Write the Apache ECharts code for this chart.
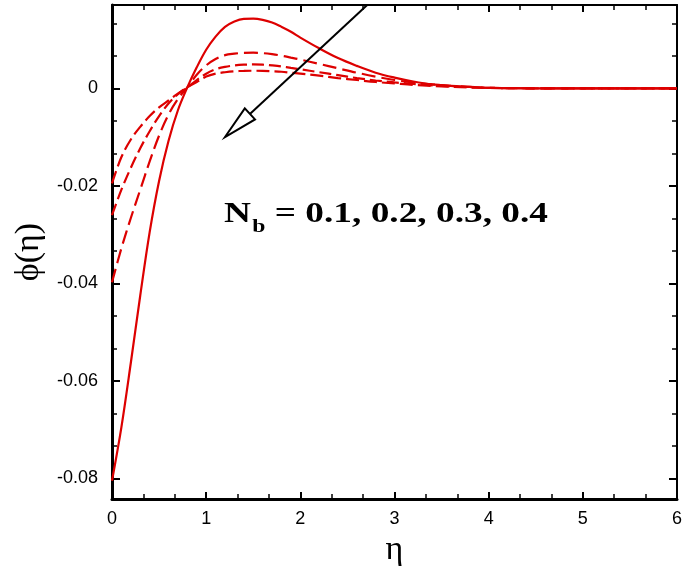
<!DOCTYPE html>
<html><head><meta charset="utf-8">
<script src="https://cdn.jsdelivr.net/npm/echarts@6/dist/echarts.min.js"></script>
<style>html,body{margin:0;padding:0;background:#fff}#c{width:685px;height:575px}</style>
</head><body><div id="c"></div>
<script>
// eta grid
const eta = [0,0.1,0.2,0.3,0.4,0.5,0.6,0.7,0.8,0.9,1.0,1.1,1.2,1.3,1.4,1.5,1.6,1.7,1.8,1.9,2.0,
  2.2,2.4,2.6,2.8,3.0,3.2,3.4,3.6,3.8,4.0,4.5,5,5.5,6];
// phi(eta) for Nb = 0.1 (solid)
const nb01 = [-0.0805,-0.0695,-0.0563,-0.0425,-0.0295,-0.0190,-0.0108,-0.0045,0.0002,0.0043,0.0079,0.0106,0.0126,0.0137,0.01425,0.0143,0.01405,0.0135,0.0126,0.0116,0.0104,
  0.0082,0.0062,0.0046,0.0032,0.0022,0.0014,0.0008,0.0005,0.0003,0.0001,0,0,0,0];
// Nb = 0.2
const nb02 = [-0.0398,-0.0328,-0.0266,-0.0208,-0.0150,-0.0097,-0.0054,-0.0022,0.0002,0.0028,0.0047,0.0060,0.0068,0.0071,0.00728,0.0073,0.00722,0.0070,0.0067,0.0063,0.0059,
  0.0050,0.0041,0.0032,0.0024,0.0017,0.0012,0.0008,0.0005,0.0003,0.0001,0,0,0,0];
// Nb = 0.3
const nb03 = [-0.0260,-0.0208,-0.0163,-0.0123,-0.0088,-0.0057,-0.0031,-0.0012,0.0002,0.0017,0.0030,0.0039,0.0044,0.0047,0.00485,0.0049,0.00485,0.0047,0.0045,0.0042,0.0039,
  0.0033,0.0027,0.0021,0.0016,0.0012,0.0009,0.0006,0.0004,0.0002,0.0001,0,0,0,0];
// Nb = 0.4
const nb04 = [-0.0195,-0.0141,-0.0105,-0.0079,-0.0057,-0.0039,-0.0025,-0.0011,0.0002,0.0013,0.0024,0.0030,0.0033,0.0035,0.00357,0.0036,0.00358,0.0035,0.0034,0.0032,0.0030,
  0.0026,0.0021,0.0017,0.0013,0.0010,0.0007,0.0005,0.0003,0.0002,0.0001,0,0,0,0];

const xTicks = [0,1,2,3,4,5,6];
const yTicks = [-0.08,-0.06,-0.04,-0.02,0];
const yTickLabels = ['-0.08','-0.06','-0.04','-0.02','0'];
const annotationText = ['N', 'b', ' = 0.1, 0.2, 0.3, 0.4'];
const arrowFrom = [2.71, 0.0171];
const arrowTo = [1.2, -0.0100];

const yMin = -0.08425, yMax = 0.01709;
const yMinorIn = [];
for (let v = -0.10; v < yMax; v += 0.02) {
  for (let k = 1; k < 3; k++) { const m = +(v + k * 0.02 / 3).toFixed(6); if (m < yMax && m > yMin) yMinorIn.push(m); }
}

const RED = '#dd0000';
const BLK = '#000';
const pairs = arr => eta.map((x, i) => [x, arr[i]]);

function xAx(pos, showLabel) {
  return {
    type: 'value', position: pos, min: 0, max: 6, interval: 1,
    axisLine: { show: true, onZero: false, lineStyle: { color: BLK, width: pos === 'bottom' ? 3 : 2 } },
    axisTick: { show: true, inside: true, length: 7, lineStyle: { color: BLK, width: 2 } },
    minorTick: { show: true, splitNumber: 3, length: 5, lineStyle: { color: BLK, width: 1.5 } },
    axisLabel: { show: showLabel, color: BLK, fontSize: 18, fontFamily: 'Liberation Sans', margin: 11,
      formatter: v => String(xTicks.find(t => Math.abs(t - v) < 1e-9) ?? '') },
    splitLine: { show: false }, minorSplitLine: { show: false },
    name: showLabel ? 'η' : '', nameLocation: 'middle', nameGap: 30,
    nameTextStyle: { fontSize: 34, fontFamily: 'Liberation Serif', color: BLK }
  };
}
function yAx(pos, major, showLabel) {
  return {
    type: 'value', position: pos, min: yMin, max: yMax,
    axisLine: { show: major, onZero: false, lineStyle: { color: BLK, width: pos === 'left' ? 3 : 2 } },
    axisTick: { show: true, inside: true, length: major ? 8 : 5, customValues: major ? yTicks : yMinorIn,
      lineStyle: { color: BLK, width: major ? 2 : 1.5 } },
    axisLabel: { show: showLabel, customValues: yTicks, color: BLK, fontSize: 18, fontFamily: 'Liberation Sans', margin: 14,
      formatter: v => { const i = yTicks.findIndex(t => Math.abs(t - v) < 1e-9); return i >= 0 ? yTickLabels[i] : ''; } },
    splitLine: { show: false },
    name: showLabel ? 'ϕ(η)' : '', nameLocation: 'middle', nameGap: 66, nameRotate: 90,
    nameTextStyle: { fontSize: 34, fontFamily: 'Liberation Serif', color: BLK }
  };
}

const chart = echarts.init(document.getElementById('c'), null, { renderer: 'canvas' });
const lineS = (name, arr, type) => ({
  name, type: 'line', xAxisIndex: 0, yAxisIndex: 0, data: pairs(arr), smooth: 0.35,
  showSymbol: false, symbol: 'none', clip: true, animation: false,
  lineStyle: { color: RED, width: 2.2, type }
});
chart.setOption({
  animation: false,
  backgroundColor: '#fff',
  grid: { left: 112, right: 7, top: 5, bottom: 76, containLabel: false },
  xAxis: [xAx('bottom', true), xAx('top', false)],
  yAxis: [yAx('left', true, true), yAx('left', false, false), yAx('right', true, false), yAx('right', false, false)],
  series: [
    lineS('Nb=0.1', nb01, 'solid'),
    lineS('Nb=0.2', nb02, [14, 6]),
    lineS('Nb=0.3', nb03, [12, 5]),
    lineS('Nb=0.4', nb04, [13, 5])
  ]
});

function drawExtras() {
  const p0 = chart.convertToPixel({ xAxisIndex: 0, yAxisIndex: 0 }, arrowFrom);
  const p1 = chart.convertToPixel({ xAxisIndex: 0, yAxisIndex: 0 }, arrowTo);
  const dx = p1[0] - p0[0], dy = p1[1] - p0[1];
  const len = Math.hypot(dx, dy);
  const ux = dx / len, uy = dy / len;
  const L = 34, W = 7.5;
  const bx = p1[0] - ux * L, by = p1[1] - uy * L;
  const nx = -uy, ny = ux;

  // annotation text layout: fit to the reference span
  const fMain = 'bold 30px "Liberation Serif"', fSub = 'bold 19px "Liberation Serif"';
  const ctx = document.createElement('canvas').getContext('2d');
  ctx.font = fMain; const wN = ctx.measureText(annotationText[0]).width; const wR = ctx.measureText(annotationText[2]).width;
  ctx.font = fSub; const wB = ctx.measureText(annotationText[1]).width;
  const x0 = 224, x1 = 548;
  const natural = wN + 1 + wB + wR;
  const sx = (x1 - x0) / natural;
  const top = 199;
  chart.setOption({
    graphic: [
      { type: 'line', shape: { x1: p0[0], y1: p0[1], x2: bx, y2: by }, style: { stroke: BLK, lineWidth: 2 }, z: 10 },
      { type: 'polygon', shape: { points: [[p1[0], p1[1]], [bx + nx * W, by + ny * W], [bx - nx * W, by - ny * W]] },
        style: { fill: '#fff', stroke: BLK, lineWidth: 2 }, z: 10 },
      { type: 'text', x: x0, y: top, z: 10, scaleX: sx,
        style: { text: annotationText[0], font: fMain, fill: BLK, verticalAlign: 'top' } },
      { type: 'text', x: x0 + (wN + 1) * sx, y: top + 19, z: 10, scaleX: sx,
        style: { text: annotationText[1], font: fSub, fill: BLK, verticalAlign: 'top' } },
      { type: 'text', x: x0 + (wN + 1 + wB) * sx, y: top, z: 10, scaleX: sx,
        style: { text: annotationText[2], font: fMain, fill: BLK, verticalAlign: 'top' } }
    ]
  });
}
drawExtras();
</script>
</body></html>
